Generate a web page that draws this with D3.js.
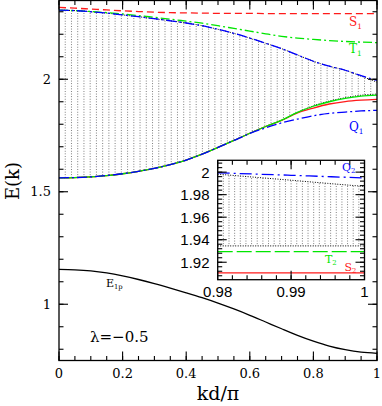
<!doctype html>
<html>
<head>
<style>
  body { margin: 0; background: #fff; }
  svg { display: block; }
  .frame { fill: none; stroke: #000; stroke-width: 1.3; }
  .tick { stroke: #000; stroke-width: 1.1; }
  .vgrid { stroke: #444; stroke-width: 0.75; stroke-dasharray: 0.9,1.7; }
  .edge { fill: none; stroke: #000; stroke-width: 1; stroke-dasharray: 1,1.5; }
  .curve { fill: none; stroke-width: 1.3; }
</style>
<script src="https://d3js.org/d3.v7.min.js"></script>
</head>
<body>
<svg width="382" height="406"></svg>
<script>
// main panel: E(k) against kd/pi, lambda = -0.5
var kd = [0, 0.05, 0.1, 0.15, 0.2, 0.25, 0.3, 0.35, 0.4, 0.45, 0.5,
          0.55, 0.6, 0.65, 0.7, 0.75, 0.8, 0.85, 0.9, 0.95, 1];
var bandTop = [2.307, 2.305, 2.300, 2.294, 2.286, 2.278, 2.269, 2.260, 2.250, 2.238, 2.222,
               2.204, 2.183, 2.160, 2.136, 2.108, 2.080, 2.058, 2.040, 2.014, 1.987];
var bandBottom = [1.562, 1.563, 1.566, 1.572, 1.580, 1.591, 1.604, 1.621, 1.641, 1.667, 1.697,
                  1.728, 1.760, 1.790, 1.818, 1.853, 1.882, 1.903, 1.918, 1.929, 1.934];
var s1 = [2.319, 2.316, 2.312, 2.308, 2.304, 2.301, 2.298, 2.296, 2.295, 2.294, 2.293,
          2.293, 2.293, 2.292, 2.292, 2.292, 2.292, 2.292, 2.292, 2.292, 2.292];
var t1 = [2.307, 2.305, 2.301, 2.296, 2.290, 2.283, 2.275, 2.267, 2.258, 2.249, 2.238,
          2.226, 2.214, 2.202, 2.191, 2.183, 2.177, 2.172, 2.168, 2.165, 2.163];
var q2 = [2.307, 2.305, 2.300, 2.294, 2.286, 2.278, 2.269, 2.260, 2.250, 2.238, 2.222,
          2.204, 2.183, 2.160, 2.136, 2.108, 2.080, 2.058, 2.040, 2.016, 1.995];
var s2 = [1.562, 1.563, 1.566, 1.572, 1.580, 1.591, 1.604, 1.621, 1.641, 1.667, 1.697,
          1.728, 1.760, 1.790, 1.817, 1.850, 1.872, 1.890, 1.901, 1.907, 1.9105];
var t2 = [1.562, 1.563, 1.566, 1.572, 1.580, 1.591, 1.604, 1.621, 1.641, 1.667, 1.697,
          1.728, 1.760, 1.790, 1.818, 1.853, 1.880, 1.900, 1.915, 1.925, 1.9295];
var q1 = [1.562, 1.563, 1.566, 1.572, 1.580, 1.591, 1.604, 1.621, 1.641, 1.667, 1.697,
          1.728, 1.759, 1.784, 1.806, 1.823, 1.838, 1.848, 1.854, 1.859, 1.862];
var e1p = [1.155, 1.153, 1.148, 1.139, 1.126, 1.110, 1.092, 1.072, 1.051, 1.029, 1.005,
           0.979, 0.951, 0.921, 0.891, 0.862, 0.836, 0.814, 0.798, 0.787, 0.782];
var xTicks = [0, 0.2, 0.4, 0.6, 0.8, 1];
var yTicks = [1, 1.5, 2];

// inset: kd/pi from 0.98 to 1
var kdIn = [0.98, 0.985, 0.99, 0.995, 1];
var bandTopIn = [1.9982, 1.9955, 1.9928, 1.9900, 1.9873];
var bandBottomIn = [1.9345, 1.9345, 1.9345, 1.9345, 1.9345];
var q2In = [1.9994, 1.9983, 1.9972, 1.9960, 1.9949];
var t2In = [1.9295, 1.9295, 1.9295, 1.9295, 1.9295];
var s2In = [1.9105, 1.9105, 1.9105, 1.9105, 1.9105];
var xTicksIn = [0.98, 0.99, 1];
var yTicksIn = [1.92, 1.94, 1.96, 1.98, 2];

var RED = "#ff1a1a", GREEN = "#00e600", BLUE = "#0000ff";

var svg = d3.select("svg");

var x = d3.scaleLinear().domain([0, 1]).range([59, 377]);
var y = d3.scaleLinear().domain([0.75, 2.35]).range([360.5, 0.5]);

var xi = d3.scaleLinear().domain([0.98, 1]).range([217.7, 364.5]);
var yi = d3.scaleLinear().domain([1.9045, 2.0105]).range([279.7, 160.3]);

function series(g, sx, sy, ks, vals, color, dash, cls) {
    var line = d3.line()
        .x(function(d, i) { return sx(ks[i]); })
        .y(function(d) { return sy(d); })
        .curve(d3.curveMonotoneX);
    var p = g.append("path")
        .datum(vals)
        .attr("class", cls || "curve")
        .attr("d", line);
    if (color) p.attr("stroke", color);
    if (dash) p.attr("stroke-dasharray", dash);
    return p;
}

function bandClip(id, sx, sy, ks, lo, hi) {
    var area = d3.area()
        .x(function(d, i) { return sx(ks[i]); })
        .y0(function(d, i) { return sy(lo[i]); })
        .y1(function(d, i) { return sy(hi[i]); })
        .curve(d3.curveMonotoneX);
    svg.append("clipPath").attr("id", id)
        .append("path").datum(ks).attr("d", area);
}

// ticks on all four sides, pointing in
function boxTicks(sx, sy, xMajor, xMinor, yMajor, yMinor, big, small) {
    var g = svg.append("g");
    var x0 = sx.range()[0], x1 = sx.range()[1];
    var yb = sy.range()[0], yt = sy.range()[1];
    function vt(list, len) {
        list.forEach(function(v) {
            g.append("line").attr("class", "tick")
             .attr("x1", sx(v)).attr("x2", sx(v)).attr("y1", yb).attr("y2", yb - len);
            g.append("line").attr("class", "tick")
             .attr("x1", sx(v)).attr("x2", sx(v)).attr("y1", yt).attr("y2", yt + len);
        });
    }
    function ht(list, len) {
        list.forEach(function(v) {
            g.append("line").attr("class", "tick")
             .attr("y1", sy(v)).attr("y2", sy(v)).attr("x1", x0).attr("x2", x0 + len);
            g.append("line").attr("class", "tick")
             .attr("y1", sy(v)).attr("y2", sy(v)).attr("x1", x1).attr("x2", x1 - len);
        });
    }
    vt(xMajor, big); vt(xMinor, small);
    ht(yMajor, big); ht(yMinor, small);
    g.append("rect").attr("class", "frame")
     .attr("x", x0).attr("y", yt).attr("width", x1 - x0).attr("height", yb - yt);
}

function label(g, px, py, main, sub, color, size) {
    var t = g.append("text")
        .attr("x", px).attr("y", py)
        .attr("fill", color)
        .attr("font-family", "DejaVu Serif")
        .attr("font-size", size + "px")
        .text(main);
    t.append("tspan")
        .attr("font-size", (size * 0.62) + "px")
        .attr("dy", size * 0.22)
        .text(sub);
}

// ---- main panel ----
bandClip("bandMain", x, y, kd, bandBottom, bandTop);
var main = svg.append("g");

var gridK = d3.range(1, 51).map(function(i) { return i / 51; });
main.append("g").attr("clip-path", "url(#bandMain)")
    .selectAll("line").data(gridK).enter().append("line")
    .attr("class", "vgrid")
    .attr("x1", function(d) { return x(d); }).attr("x2", function(d) { return x(d); })
    .attr("y1", 0).attr("y2", 360);

series(main, x, y, kd, bandTop, null, null, "edge");
series(main, x, y, kd, bandBottom, null, null, "edge");

series(main, x, y, kd, e1p, "#000");
series(main, x, y, kd, s1, RED, "7,4");
series(main, x, y, kd, t1, GREEN, "9,3,2,3");
series(main, x, y, kd, q2, BLUE, "10,3,2,3");
series(main, x, y, kd, s2, RED);
series(main, x, y, kd, t2, GREEN);
series(main, x, y, kd, q1, BLUE, "10,3,2,3");

boxTicks(x, y, xTicks, d3.range(0, 1.001, 0.05),
         yTicks, d3.range(0.8, 2.35, 0.1), 9, 4.5);

main.selectAll(".xl").data(xTicks).enter().append("text")
    .attr("x", function(d) { return x(d); }).attr("y", 377.5)
    .attr("text-anchor", "middle")
    .attr("font-family", "DejaVu Serif").attr("font-size", "13px")
    .text(function(d) { return d; });
main.selectAll(".yl").data(yTicks).enter().append("text")
    .attr("x", 51).attr("y", function(d) { return y(d) + 4.5; })
    .attr("text-anchor", "end")
    .attr("font-family", "DejaVu Serif").attr("font-size", "13px")
    .text(function(d) { return d; });

svg.append("text")
    .attr("transform", "translate(19,181) rotate(-90)")
    .attr("text-anchor", "middle")
    .attr("font-family", "DejaVu Serif").attr("font-size", "18px")
    .text("E(k)");
svg.append("text")
    .attr("x", 218).attr("y", 400)
    .attr("text-anchor", "middle")
    .attr("font-family", "DejaVu Serif").attr("font-size", "19px")
    .text("kd/\u03c0");
svg.append("text")
    .attr("x", 90).attr("y", 342)
    .attr("font-family", "DejaVu Serif").attr("font-size", "15px")
    .text("\u03bb=\u22120.5");

label(main, 106, 287, "E", "1p", "#000", 11);
label(main, 349, 26, "S", "1", RED, 12);
label(main, 349, 53, "T", "1", GREEN, 12);
label(main, 349, 131, "Q", "1", BLUE, 12);

// ---- inset ----
svg.append("rect").attr("fill", "#fff")
   .attr("x", 217.7).attr("y", 160.3).attr("width", 146.8).attr("height", 119.4);
bandClip("bandInset", xi, yi, kdIn, bandBottomIn, bandTopIn);
var inset = svg.append("g");

var gridIn = d3.range(1, 26).map(function(i) { return 0.98 + i * 0.02 / 26; });
inset.append("g").attr("clip-path", "url(#bandInset)")
    .selectAll("line").data(gridIn).enter().append("line")
    .attr("class", "vgrid")
    .attr("x1", function(d) { return xi(d); }).attr("x2", function(d) { return xi(d); })
    .attr("y1", 160).attr("y2", 280);

series(inset, xi, yi, kdIn, bandTopIn, null, null, "edge");
series(inset, xi, yi, kdIn, bandBottomIn, null, null, "edge");
series(inset, xi, yi, kdIn, s2In, RED);
series(inset, xi, yi, kdIn, t2In, GREEN, "15,4");
series(inset, xi, yi, kdIn, q2In, BLUE, "12,4,2,4");

boxTicks(xi, yi, xTicksIn, d3.range(0.982, 0.9995, 0.002),
         yTicksIn, d3.range(1.908, 2.01, 0.004), 9, 4.5);

inset.selectAll(".xl").data(xTicksIn).enter().append("text")
    .attr("x", function(d) { return xi(d); }).attr("y", 297)
    .attr("text-anchor", "middle")
    .attr("font-family", "Liberation Sans").attr("font-size", "15px")
    .text(function(d) { return d; });
inset.selectAll(".yl").data(yTicksIn).enter().append("text")
    .attr("x", 209.5).attr("y", function(d) { return yi(d) + 5.5; })
    .attr("text-anchor", "end")
    .attr("font-family", "Liberation Sans").attr("font-size", "15px")
    .text(function(d) { return d; });

label(inset, 342, 171, "Q", "2", BLUE, 11);
label(inset, 325, 262.5, "T", "2", GREEN, 11);
label(inset, 344.5, 270.5, "S", "2", RED, 11);
</script>
</body>
</html>
